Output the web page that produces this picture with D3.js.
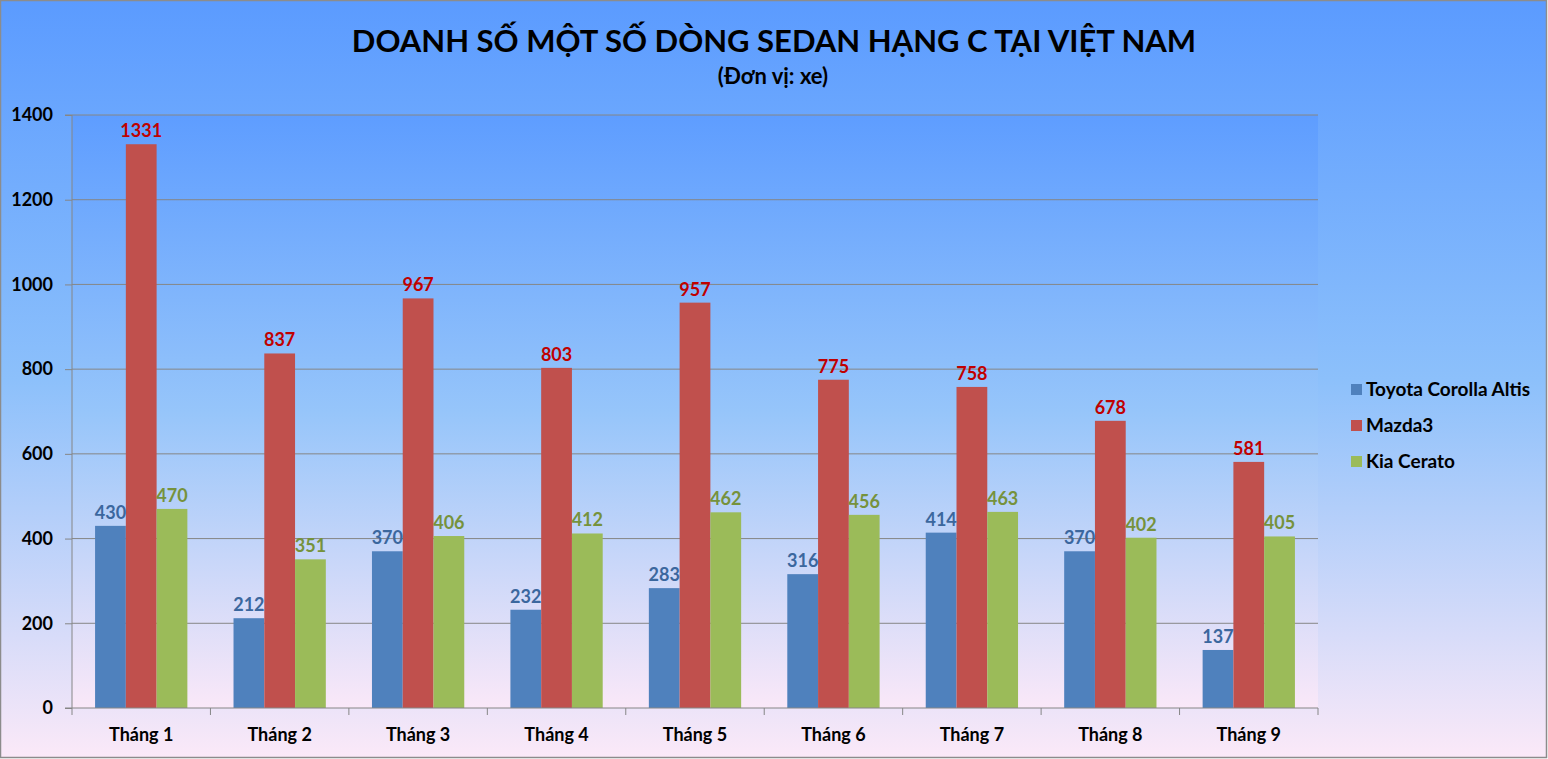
<!DOCTYPE html>
<html><head><meta charset="utf-8">
<script src="https://cdn.jsdelivr.net/npm/d3@7/dist/d3.min.js"></script>
<style>html,body{margin:0;padding:0;overflow:hidden;background:#fff}</style>
</head><body>
<svg id="c" width="1548" height="759"></svg>
<script>
const months = ["Tháng 1","Tháng 2","Tháng 3","Tháng 4","Tháng 5","Tháng 6","Tháng 7","Tháng 8","Tháng 9"];
const seriesNames = ["Toyota Corolla Altis","Mazda3","Kia Cerato"];
const toyota = [430,212,370,232,283,316,414,370,137];
const mazda = [1331,837,967,803,957,775,758,678,581];
const kia = [470,351,406,412,462,456,463,402,405];
const yTicks = [0,200,400,600,800,1000,1200,1400];
const barColors = ["#4f81bd","#c0504d","#9bbb59"];
const labelColors = ["#3b679e","#c00000","#76923c"];
const title = "DOANH SỐ MỘT SỐ DÒNG SEDAN HẠNG C TẠI VIỆT NAM";
const subtitle = "(Đơn vị: xe)";

const series = [toyota, mazda, kia];
const W = 1548, H = 759;
const m = {left:72, top:115, right:1318, bottom:708};
const font = "Lato, Calibri, 'Open Sans', sans-serif";

const svg = d3.select("#c");
const defs = svg.append("defs");
const g1 = defs.append("linearGradient").attr("id","bg").attr("x1",0).attr("y1",0).attr("x2",0).attr("y2",1);
g1.append("stop").attr("offset","0%").attr("stop-color","#5b9bff");
g1.append("stop").attr("offset","50%").attr("stop-color","#8cc0fb");
g1.append("stop").attr("offset","100%").attr("stop-color","#fbe9f8");
const g2 = defs.append("linearGradient").attr("id","pg").attr("x1",0).attr("y1",0).attr("x2",0).attr("y2",1);
g2.append("stop").attr("offset","0%").attr("stop-color","#5e9dff");
g2.append("stop").attr("offset","50%").attr("stop-color","#96c5fa");
g2.append("stop").attr("offset","100%").attr("stop-color","#fae8f8");

svg.append("rect").attr("x",0.5).attr("y",0.5).attr("width",W-2).attr("height",H-2)
  .attr("fill","url(#bg)").attr("stroke","#8c8c8c").attr("stroke-width",1.5);

svg.append("rect").attr("x",m.left).attr("y",m.top).attr("width",m.right-m.left).attr("height",m.bottom-m.top)
  .attr("fill","url(#pg)");

const x0 = d3.scaleBand().domain(months).range([m.left,m.right]).paddingInner(0).paddingOuter(0);
const x1 = d3.scaleBand().domain(d3.range(3)).range([0,x0.bandwidth()]).paddingInner(0).paddingOuter(0.75);
const y = d3.scaleLinear().domain([0,1400]).range([m.bottom,m.top]);

// gridlines
svg.append("g").selectAll("line").data(yTicks.filter(d=>d>0)).join("line")
  .attr("x1",m.left).attr("x2",m.right).attr("y1",d=>y(d)).attr("y2",d=>y(d))
  .attr("stroke","#868686").attr("stroke-width",1);

// bars
const groups = svg.append("g").selectAll("g").data(months).join("g")
  .attr("transform",d=>`translate(${x0(d)},0)`);
groups.each(function(mo,i){
  const gg = d3.select(this);
  series.forEach((s,k)=>{
    gg.append("rect").attr("x",x1(k)).attr("width",x1.bandwidth())
      .attr("y",y(s[i])).attr("height",y(0)-y(s[i])).attr("fill",barColors[k]);
  });
  series.forEach((s,k)=>{
    gg.append("text").attr("x",x1(k)+x1.bandwidth()/2).attr("y",y(s[i])-7)
      .attr("text-anchor","middle").attr("font-family",font).attr("font-weight","bold")
      .attr("font-size",18).attr("fill",labelColors[k]).text(s[i]);
  });
});

// y axis
const yAxis = d3.axisLeft(y).tickValues(yTicks).tickSize(7).tickPadding(12).tickFormat(d3.format("d"));
const ya = svg.append("g").attr("transform",`translate(${m.left},0)`).call(yAxis);
ya.select(".domain").attr("stroke","#868686").attr("d",`M-7,${y(1400)}H0V${y(0)}H-7`);
ya.selectAll(".tick line").attr("stroke","#868686");
ya.selectAll(".tick text").attr("font-family",font).attr("font-weight","bold").attr("font-size",18).attr("fill","#000");

// x axis
const xa = svg.append("g").attr("transform",`translate(0,${m.bottom})`);
xa.append("line").attr("x1",m.left).attr("x2",m.right).attr("y1",0).attr("y2",0).attr("stroke","#868686");
xa.selectAll("line.t").data(d3.range(months.length+1)).join("line").attr("class","t")
  .attr("x1",i=>m.left+i*x0.bandwidth()).attr("x2",i=>m.left+i*x0.bandwidth())
  .attr("y1",0).attr("y2",7).attr("stroke","#868686");
xa.selectAll("text").data(months).join("text")
  .attr("x",d=>x0(d)+x0.bandwidth()/2).attr("y",33).attr("text-anchor","middle")
  .attr("font-family",font).attr("font-weight","bold").attr("font-size",18).attr("fill","#000").text(d=>d);

// title
svg.append("text").attr("x",774).attr("y",52).attr("text-anchor","middle")
  .attr("font-family",font).attr("font-weight","bold").attr("font-size",31).attr("fill","#000").text(title);
svg.append("text").attr("x",773).attr("y",84).attr("text-anchor","middle")
  .attr("font-family",font).attr("font-weight","bold").attr("font-size",22).attr("fill","#000").text(subtitle);

// legend
const lg = svg.append("g").selectAll("g").data(seriesNames).join("g")
  .attr("transform",(d,i)=>`translate(1351,${390+i*36})`);
lg.append("rect").attr("x",0).attr("y",-6).attr("width",11).attr("height",11).attr("fill",(d,i)=>barColors[i]);
lg.append("text").attr("x",15).attr("y",6).attr("font-family",font).attr("font-weight","bold")
  .attr("font-size",19).attr("fill","#000").text(d=>d);
</script>
</body></html>
